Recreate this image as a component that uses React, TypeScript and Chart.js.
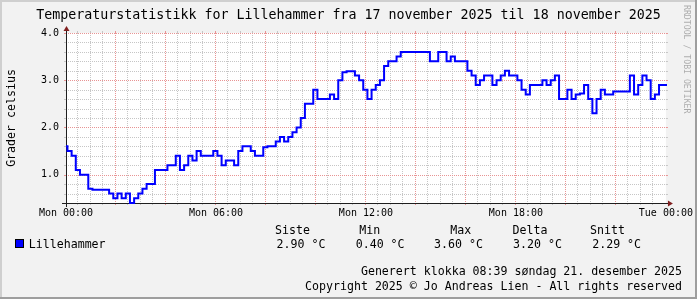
import React, { useEffect, useRef } from 'react';
import { Chart, registerables } from 'chart.js';

Chart.register(...registerables);

// ---------- data ----------
const TITLE = 'Temperaturstatistikk for Lillehammer fra 17 november 2025 til 18 november 2025';
const Y_LABEL = 'Grader celsius';
const SERIES_NAME = 'Lillehammer';
const X_TICK_VALUES = [0, 360, 720, 1080, 1440];
const X_TICK_LABELS = ['Mon 00:00', 'Mon 06:00', 'Mon 12:00', 'Mon 18:00', 'Tue 00:00'];
const Y_TICK_VALUES = [1, 2, 3, 4];
const Y_TICK_LABELS = ['1.0', '2.0', '3.0', '4.0'];
// sample k holds from SAMPLE_START_MIN + k*SAMPLE_STEP_MIN (minutes after Mon 00:00)
const SAMPLE_START_MIN = -6.5;
const SAMPLE_STEP_MIN = 10;
const TEMPS = [
  1.6, 1.5, 1.4, 1.1, 1.0, 1.0, 0.7, 0.68, 0.68, 0.68,
  0.68, 0.6, 0.5, 0.6, 0.5, 0.6, 0.4, 0.5, 0.6, 0.7,
  0.8, 0.8, 1.1, 1.1, 1.1, 1.2, 1.2, 1.4, 1.1, 1.2,
  1.4, 1.3, 1.5, 1.4, 1.4, 1.4, 1.5, 1.4, 1.2, 1.3,
  1.3, 1.2, 1.5, 1.6, 1.6, 1.5, 1.4, 1.4, 1.58, 1.6,
  1.6, 1.7, 1.8, 1.7, 1.8, 1.9, 2.0, 2.2, 2.5, 2.5,
  2.8, 2.6, 2.6, 2.6, 2.7, 2.6, 3.0, 3.17, 3.19, 3.19,
  3.1, 3.0, 2.8, 2.6, 2.8, 2.9, 3.0, 3.3, 3.4, 3.4,
  3.5, 3.6, 3.6, 3.6, 3.6, 3.6, 3.6, 3.6, 3.4, 3.4,
  3.6, 3.6, 3.4, 3.5, 3.4, 3.4, 3.4, 3.2, 3.1, 2.9,
  3.0, 3.1, 3.1, 2.9, 3.0, 3.1, 3.2, 3.1, 3.1, 3.0,
  2.8, 2.7, 2.9, 2.9, 2.9, 3.0, 2.9, 3.0, 3.1, 2.6,
  2.6, 2.8, 2.6, 2.7, 2.72, 2.9, 2.6, 2.3, 2.6, 2.8,
  2.7, 2.7, 2.76, 2.76, 2.76, 2.76, 3.1, 2.7, 2.9, 3.1,
  3.0, 2.6, 2.7, 2.9, 2.9,
];
const STAT_HEADERS = ['Siste', 'Min', 'Max', 'Delta', 'Snitt'];
const STAT_VALUES = ['2.90 °C', '0.40 °C', '3.60 °C', '3.20 °C', '2.29 °C'];
const FOOTER_LINES = [
  'Generert klokka 08:39 søndag 21. desember 2025',
  'Copyright 2025 © Jo Andreas Lien - All rights reserved',
];
const WATERMARK = 'RRDTOOL / TOBI OETIKER';

// ---------- style ----------
const W = 697;
const H = 299;
const MONO = "'DejaVu Sans Mono', monospace";
const COL_BACK = '#F2F2F2';
const COL_SHADE_A = '#CFCFCF';
const COL_SHADE_B = '#9E9E9E';
const COL_GRID = '#C6C6C6';
const COL_MGRID = '#E89494';
const COL_AXIS = '#1F1F1F';
const COL_ARROW = '#801F1F';
const COL_LINE = '#0000FF';

const X_MIN = 0;
const X_MAX = 1440;
const X_MAJOR = 120;
const X_MINOR = 30;
const Y_MIN = 0.4;
const Y_MAX = 4.0;

const STAT_HEADER_X = [275, 359.3, 450.3, 512.6, 590];
const STAT_VALUE_X = [276.6, 355.7, 434, 513, 592.2];

const rrdPlugin = {
  id: 'rrdLook',
  beforeDraw(chart: any) {
    const { ctx, width, height, chartArea: a } = chart;
    ctx.save();
    ctx.fillStyle = COL_BACK;
    ctx.fillRect(0, 0, width, height);
    ctx.fillStyle = COL_SHADE_A;
    ctx.fillRect(0, 0, width, 2);
    ctx.fillRect(0, 0, 2, height);
    ctx.fillStyle = COL_SHADE_B;
    ctx.fillRect(0, height - 2, width, 2);
    ctx.fillRect(width - 2, 0, 2, height);
    ctx.fillStyle = '#FFFFFF';
    ctx.fillRect(a.left, a.top, a.right - a.left, a.bottom - a.top);
    ctx.restore();
  },
  beforeDatasetsDraw(chart: any) {
    const { ctx, chartArea: a } = chart;
    const xs = chart.scales.x;
    const ys = chart.scales.y;
    const L = a.left, R = a.right, T = a.top, B = a.bottom;
    ctx.save();
    ctx.lineWidth = 1;
    const vline = (px: number, color: string) => {
      const x = Math.round(px) - 0.5;
      ctx.strokeStyle = color;
      ctx.setLineDash([1, 1]);
      ctx.beginPath(); ctx.moveTo(x, T); ctx.lineTo(x, B); ctx.stroke();
      ctx.setLineDash([]);
      ctx.beginPath(); ctx.moveTo(x, B); ctx.lineTo(x, B + 2); ctx.stroke();
      ctx.beginPath(); ctx.moveTo(x, T - 2); ctx.lineTo(x, T); ctx.stroke();
    };
    const hline = (py: number, color: string) => {
      const y = Math.round(py) + 0.5;
      ctx.strokeStyle = color;
      ctx.setLineDash([1, 1]);
      ctx.beginPath(); ctx.moveTo(L, y); ctx.lineTo(R, y); ctx.stroke();
      ctx.setLineDash([]);
      ctx.beginPath(); ctx.moveTo(L - 2, y); ctx.lineTo(L, y); ctx.stroke();
      ctx.beginPath(); ctx.moveTo(R, y); ctx.lineTo(R + 2, y); ctx.stroke();
    };
    // minor grid
    for (let m = X_MIN + X_MINOR; m < X_MAX; m += X_MINOR) {
      if (m % X_MAJOR === 0) continue;
      vline(xs.getPixelForValue(m), COL_GRID);
    }
    for (let i = 3; i <= 19; i++) {
      if (i % 5 === 0) continue;
      hline(ys.getPixelForValue(i * 0.2), COL_GRID);
    }
    // major grid
    for (let m = X_MIN + X_MAJOR; m < X_MAX; m += X_MAJOR) {
      vline(xs.getPixelForValue(m), COL_MGRID);
    }
    Y_TICK_VALUES.forEach((v) => hline(ys.getPixelForValue(v), COL_MGRID));
    // axes
    ctx.strokeStyle = COL_AXIS;
    ctx.beginPath(); ctx.moveTo(L - 4, B + 0.5); ctx.lineTo(R + 4, B + 0.5); ctx.stroke();
    ctx.beginPath(); ctx.moveTo(L + 0.5, B + 4); ctx.lineTo(L + 0.5, T - 4); ctx.stroke();
    // arrows
    ctx.fillStyle = COL_ARROW;
    ctx.beginPath();
    ctx.moveTo(R + 2, B + 0.5 - 3); ctx.lineTo(R + 2, B + 0.5 + 3); ctx.lineTo(R + 7, B + 0.5);
    ctx.closePath(); ctx.fill();
    ctx.beginPath();
    ctx.moveTo(L + 0.5 - 3, T - 2); ctx.lineTo(L + 0.5 + 3, T - 2); ctx.lineTo(L + 0.5, T - 7);
    ctx.closePath(); ctx.fill();
    ctx.restore();
  },
  afterDraw(chart: any) {
    const { ctx, chartArea: a, width } = chart;
    ctx.save();
    ctx.fillStyle = '#000000';
    ctx.textBaseline = 'alphabetic';
    // title
    ctx.font = `13.3px ${MONO}`;
    ctx.textAlign = 'center';
    ctx.fillText(TITLE, width / 2, 18.5);
    // y label
    ctx.save();
    ctx.font = `11.6px ${MONO}`;
    ctx.translate(14.5, (a.top + a.bottom) / 2);
    ctx.rotate(-Math.PI / 2);
    ctx.textAlign = 'center';
    ctx.fillText(Y_LABEL, 0, 0);
    ctx.restore();
    // legend
    ctx.font = `11.6px ${MONO}`;
    ctx.textAlign = 'left';
    ctx.fillStyle = COL_LINE;
    ctx.fillRect(15, 239, 9, 9);
    ctx.strokeStyle = '#000000';
    ctx.lineWidth = 1;
    ctx.strokeRect(15.5, 239.5, 8, 8);
    ctx.fillStyle = '#000000';
    ctx.fillText(SERIES_NAME, 28.8, 247.5);
    STAT_HEADERS.forEach((h, i) => ctx.fillText(h, STAT_HEADER_X[i], 233.5));
    STAT_VALUES.forEach((v, i) => ctx.fillText(v, STAT_VALUE_X[i], 247.5));
    // footer
    ctx.textAlign = 'right';
    ctx.fillText(FOOTER_LINES[0], 682, 275.2);
    ctx.fillText(FOOTER_LINES[1], 682, 289.5);
    // watermark
    ctx.save();
    ctx.font = `8.2px ${MONO}`;
    ctx.fillStyle = 'rgba(0,0,0,0.3)';
    ctx.translate(684, 5);
    ctx.rotate(Math.PI / 2);
    ctx.textAlign = 'left';
    ctx.textBaseline = 'alphabetic';
    ctx.fillText(WATERMARK, 0, 0);
    ctx.restore();
    ctx.restore();
  },
};

export default function App() {
  const ref = useRef<HTMLCanvasElement | null>(null);

  useEffect(() => {
    const canvas = ref.current;
    if (!canvas) return;
    const points = TEMPS.map((v, i) => ({ x: SAMPLE_START_MIN + i * SAMPLE_STEP_MIN, y: v }));
    points.push({
      x: SAMPLE_START_MIN + TEMPS.length * SAMPLE_STEP_MIN,
      y: TEMPS[TEMPS.length - 1],
    });
    const chart = new Chart(canvas, {
      type: 'line',
      data: {
        datasets: [
          {
            label: SERIES_NAME,
            data: points,
            borderColor: COL_LINE,
            borderWidth: 2,
            stepped: true,
            pointRadius: 0,
            fill: false,
            tension: 0,
            clip: { left: 0, top: 2, right: 1, bottom: 2 },
          } as any,
        ],
      },
      options: {
        animation: false,
        responsive: false,
        devicePixelRatio: 1,
        events: [],
        layout: { padding: { top: 33, right: 31, bottom: 0, left: 0 } },
        plugins: {
          legend: { display: false },
          title: { display: false },
          tooltip: { enabled: false },
        },
        scales: {
          x: {
            type: 'linear',
            position: 'bottom',
            min: X_MIN,
            max: X_MAX,
            bounds: 'data',
            afterFit: (s: any) => { s.height = 96; },
            afterBuildTicks: (s: any) => { s.ticks = X_TICK_VALUES.map((value) => ({ value })); },
            grid: { display: false, drawTicks: false },
            border: { display: false },
            ticks: {
              autoSkip: false,
              maxRotation: 0,
              minRotation: 0,
              padding: 4,
              color: '#000000',
              font: { family: MONO, size: 10 },
              callback: (_v: any, i: number) => X_TICK_LABELS[i],
            },
          },
          y: {
            type: 'linear',
            min: Y_MIN,
            max: Y_MAX,
            bounds: 'data',
            afterFit: (s: any) => { s.width = 66; },
            afterBuildTicks: (s: any) => { s.ticks = Y_TICK_VALUES.map((value) => ({ value })); },
            grid: { display: false, drawTicks: false },
            border: { display: false },
            ticks: {
              autoSkip: false,
              padding: 7,
              color: '#000000',
              font: { family: MONO, size: 10 },
              callback: (_v: any, i: number) => Y_TICK_LABELS[i],
            },
          },
        },
      } as any,
      plugins: [rrdPlugin],
    });
    return () => chart.destroy();
  }, []);

  return (
    <div style={{ position: 'absolute', left: 0, top: 0, width: W, height: H }}>
      <canvas ref={ref} width={W} height={H} style={{ display: 'block', width: W, height: H }} />
    </div>
  );
}
